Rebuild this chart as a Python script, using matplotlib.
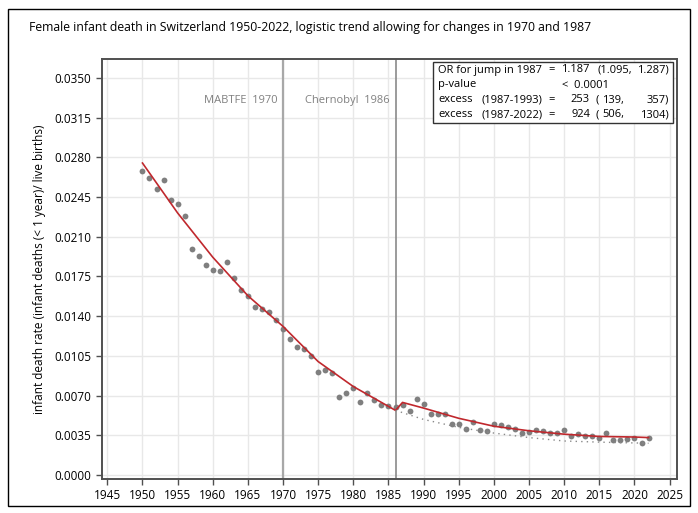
import matplotlib
matplotlib.use("Agg")
import matplotlib.pyplot as plt
from matplotlib.patches import Rectangle

plt.rcParams['font.family'] = ['Open Sans', 'DejaVu Sans']

# observed rates, female infant deaths / live births
years = list(range(1950, 2023))
rates = [0.0268, 0.0262, 0.0252, 0.0260, 0.0242, 0.0239, 0.0228, 0.0199, 0.0193, 0.0185,
         0.0181, 0.0180, 0.0188, 0.0174, 0.0163, 0.0158, 0.0148, 0.0146, 0.0144, 0.0137,
         0.0129, 0.0120, 0.0113, 0.0111, 0.0105, 0.0091, 0.0093, 0.0090, 0.0069, 0.0072,
         0.0077, 0.0064, 0.0072, 0.0066, 0.0062, 0.0061, 0.0060, 0.0062, 0.0056, 0.0067,
         0.0063, 0.0054, 0.0054, 0.0054, 0.0045, 0.0045, 0.0041, 0.0047, 0.0040, 0.0039,
         0.0045, 0.0044, 0.0042, 0.0041, 0.0037, 0.0038, 0.0040, 0.0039, 0.0037, 0.0037,
         0.0040, 0.0034, 0.0036, 0.0034, 0.0034, 0.0033, 0.0037, 0.0031, 0.0031, 0.0032,
         0.0033, 0.0028, 0.0033]

# fitted logistic trend
trend_years = [1950, 1955, 1960, 1965, 1970, 1975, 1980, 1986, 1987, 1990, 1995, 2000,
               2005, 2010, 2015, 2020, 2022]
trend = [0.0275, 0.0231, 0.0192, 0.0158, 0.0131, 0.0100, 0.0078, 0.0057, 0.0064, 0.0059,
         0.0050, 0.0043, 0.0039, 0.0036, 0.0034, 0.00335, 0.0033]

# trend without the 1987 jump
base_years = [1986, 1990, 1995, 2000, 2005, 2010, 2015, 2022]
base = [0.0057, 0.0049, 0.0042, 0.0037, 0.0033, 0.0030, 0.0029, 0.0028]

events = [1970, 1986]
event_labels = ['MABTFE  1970', 'Chernobyl  1986']

yticks = [0.0000, 0.0035, 0.0070, 0.0105, 0.0140, 0.0175, 0.0210, 0.0245, 0.0280, 0.0315, 0.0350]
xticks = list(range(1945, 2030, 5))

W, H = 698, 513
fig = plt.figure(figsize=(W / 100, H / 100), dpi=100)


def px(x, y):
    return x / W, 1 - y / H


ax = fig.add_axes([101.7 / W, 1 - 479 / H, (677 - 101.7) / W, (479 - 59) / H])

ax.grid(True, color='#e8e8e8', lw=1)
ax.set_axisbelow(True)

ax.axvline(events[0], color='#a8a8a8', lw=1.6, zorder=2)
ax.axvline(events[1], color='#8a8a8a', lw=1.2, zorder=2)

ax.plot(years, rates, 'o', color='#7f7f7f', ms=4.2, mec='none', zorder=3)
ax.plot(trend_years, trend, color='#c0282d', lw=1.2, zorder=4)
ax.plot(base_years, base, color='#8a8a8a', lw=1.0, ls=(0, (1, 3)), zorder=4)

ax.set_xlim(1944.2, 2026.05)
ax.set_ylim(-0.00035, 0.03667)
ax.set_xticks(xticks)
ax.set_yticks(yticks)
ax.set_yticklabels(['%.4f' % v for v in yticks])
ax.tick_params(labelsize=8.5, length=4, width=1, color='#505050', direction='out')
for s in ax.spines.values():
    s.set_color('#505050')
    s.set_linewidth(1.4)
ax.set_ylabel('infant death rate (infant deaths (< 1 year)/ live births)', fontsize=8.5,
              labelpad=6)

for x, lab in zip(events, event_labels):
    ax.text(x - 0.8, 0.0330, lab, ha='right', va='center', fontsize=8, color='#808080')

# statistics box
rows_y = [70, 85, 100, 115]
kw = dict(fontsize=8, va='center', zorder=6)
fig.text(*px(438, rows_y[0]), 'OR for jump in 1987', **kw)
fig.text(*px(438, rows_y[1]), 'p-value', **kw)
fig.text(*px(438, rows_y[2]), 'excess', **kw)
fig.text(*px(438, rows_y[3]), 'excess', **kw)
fig.text(*px(482, rows_y[2]), '(1987-1993)', **kw)
fig.text(*px(482, rows_y[3]), '(1987-2022)', **kw)
for r in [0, 2, 3]:
    fig.text(*px(548, rows_y[r]), '=', **kw)
fig.text(*px(562, rows_y[1]), '<  0.0001', **kw)
fig.text(*px(590, rows_y[0]), '1.187', ha='right', **kw)
fig.text(*px(597, rows_y[0]), '(1.095,', **kw)
fig.text(*px(669, rows_y[0]), '1.287)', ha='right', **kw)
for r, (a, b, c) in zip([2, 3], [('253', '139,', '357)'), ('924', '506,', '1304)')]):
    fig.text(*px(590, rows_y[r]), a, ha='right', **kw)
    fig.text(*px(595, rows_y[r]), '(', **kw)
    fig.text(*px(624, rows_y[r]), b, ha='right', **kw)
    fig.text(*px(669, rows_y[r]), c, ha='right', **kw)
x0, y0 = px(433, 123)
x1, y1 = px(673, 62)
fig.patches.append(Rectangle((x0, y0), x1 - x0, y1 - y0, transform=fig.transFigure,
                             fill=True, facecolor='white', edgecolor='#333333', lw=1.0,
                             zorder=1))

fig.text(*px(29, 28), 'Female infant death in Switzerland 1950-2022, logistic trend allowing '
         'for changes in 1970 and 1987', fontsize=8.8, va='center')

bx0, by0 = px(8, 506)
bx1, by1 = px(690, 9)
fig.patches.append(Rectangle((bx0, by0), bx1 - bx0, by1 - by0, transform=fig.transFigure,
                             fill=False, edgecolor='black', lw=1.0))

fig.savefig('out.png', dpi=100)
